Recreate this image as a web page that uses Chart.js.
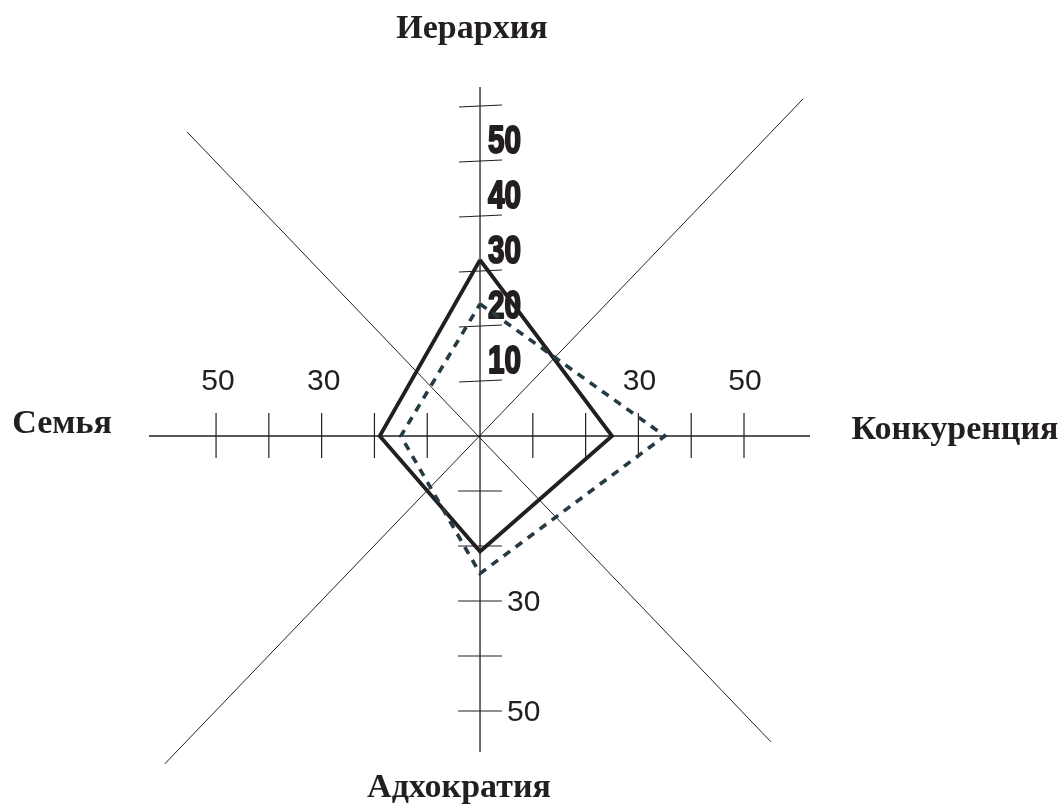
<!DOCTYPE html>
<html>
<head>
<meta charset="utf-8">
<script src="https://cdn.jsdelivr.net/npm/chart.js@4.4.1/dist/chart.umd.min.js"></script>
<style>
  html, body { margin: 0; padding: 0; background: #ffffff; }
  #wrap { width: 1064px; height: 805px; }
</style>
</head>
<body>
<div id="wrap"><canvas id="c" width="1064" height="805"></canvas></div>
<script>
// Axis names, in order: up, right, down, left
const categories = ['Иерархия', 'Конкуренция', 'Адхократия', 'Семья'];

// Profile values on each axis (same order as categories)
const solidValues  = [32, 25, 21, 19];
const dashedValues = [24, 35, 25, 15];

// Tick marks on each half-axis
const ticksUp    = [10, 20, 30, 40, 50, 60];
const ticksRight = [10, 20, 30, 40, 50];
const ticksDown  = [10, 20, 30, 40, 50];
const ticksLeft  = [10, 20, 30, 40, 50];

// Numbers printed beside the ticks
const labelsUp    = [10, 20, 30, 40, 50];
const labelsRight = [30, 50];
const labelsDown  = [30, 50];
const labelsLeft  = [30, 50];

// Diagonal guide lines (end points in axis units)
const diagonals = [
  [[-55.5, 55.3], [55.1, -55.6]],
  [[-59.7, -59.6], [61.2, 61.3]]
];

const INK = '#231f20';

// Map a value on each named axis to an (x, y) point
function toPoints(values) {
  const pts = [
    { x: 0, y: values[0] },
    { x: values[1], y: 0 },
    { x: 0, y: -values[2] },
    { x: -values[3], y: 0 }
  ];
  pts.push(pts[0]);
  return pts;
}

const frame = {
  id: 'frame',
  beforeDatasetsDraw(chart) {
    const ctx = chart.ctx;
    const xs = chart.scales.x, ys = chart.scales.y;
    const px = v => xs.getPixelForValue(v);
    const py = v => ys.getPixelForValue(v);
    const x0 = px(0), y0 = py(0);
    ctx.save();
    ctx.strokeStyle = INK;

    // diagonals
    ctx.lineWidth = 1;
    diagonals.forEach(d => {
      ctx.beginPath();
      ctx.moveTo(px(d[0][0]), py(d[0][1]));
      ctx.lineTo(px(d[1][0]), py(d[1][1]));
      ctx.stroke();
    });

    // main axes
    ctx.lineWidth = 1.3;
    ctx.beginPath();
    ctx.moveTo(px(xs.min), y0); ctx.lineTo(px(xs.max), y0);
    ctx.moveTo(x0, py(ys.max)); ctx.lineTo(x0, py(ys.min));
    ctx.stroke();

    // tick marks
    ctx.lineWidth = 1.2;
    ctx.beginPath();
    ticksUp.forEach(v => { const y = py(v); ctx.moveTo(x0 - 21, y + 1); ctx.lineTo(x0 + 22, y - 1); });
    ticksDown.forEach(v => { const y = py(-v); ctx.moveTo(x0 - 22, y); ctx.lineTo(x0 + 22, y); });
    ticksRight.forEach(v => { const x = px(v); ctx.moveTo(x, y0 - 23); ctx.lineTo(x, y0 + 22); });
    ticksLeft.forEach(v => { const x = px(-v); ctx.moveTo(x, y0 - 23); ctx.lineTo(x, y0 + 22); });
    ctx.stroke();

    // condensed heavy numbers on the upper axis
    ctx.fillStyle = INK;
    ctx.textAlign = 'left';
    ctx.textBaseline = 'middle';
    ctx.font = 'bold 38px "Liberation Sans", Arial, sans-serif';
    ctx.lineWidth = 2;
    ctx.lineJoin = 'round';
    labelsUp.forEach(v => {
      ctx.save();
      ctx.translate(x0 + 8, py(v) - 19);
      ctx.scale(0.78, 1.02);
      ctx.fillText(String(v), 0, 0);
      ctx.strokeText(String(v), 0, 0);
      ctx.restore();
    });

    // plain numbers on the other axes
    ctx.font = '30px "Liberation Sans", Arial, sans-serif';
    ctx.textAlign = 'center';
    labelsRight.forEach(v => ctx.fillText(String(v), px(v) + 1, y0 - 54));
    labelsLeft.forEach(v => ctx.fillText(String(v), px(-v) + 2, y0 - 54));
    ctx.textAlign = 'left';
    labelsDown.forEach(v => ctx.fillText(String(v), x0 + 27, py(-v) + 2));

    // axis names
    ctx.font = 'bold 34px "Liberation Serif", "Times New Roman", serif';
    ctx.textAlign = 'center';
    ctx.textBaseline = 'alphabetic';
    ctx.fillText(categories[0], 472, 38);
    ctx.fillText(categories[1], 955, 439);
    ctx.fillText(categories[2], 459, 797);
    ctx.fillText(categories[3], 62, 433);
    ctx.restore();
  }
};

new Chart(document.getElementById('c'), {
  type: 'scatter',
  data: {
    datasets: [
      {
        data: toPoints(dashedValues),
        showLine: true,
        borderColor: '#263a44',
        borderWidth: 3.6,
        borderDash: [8, 7],
        borderJoinStyle: 'miter',
        pointRadius: 0,
        fill: false,
        clip: false,
        tension: 0
      },
      {
        data: toPoints(solidValues),
        showLine: true,
        borderColor: INK,
        borderWidth: 3.8,
        borderJoinStyle: 'miter',
        pointRadius: 0,
        fill: false,
        clip: false,
        tension: 0
      }
    ]
  },
  options: {
    responsive: false,
    animation: false,
    layout: { padding: { left: 149, right: 254, top: 87, bottom: 53 } },
    scales: {
      x: { type: 'linear', min: -62.7, max: 62.5, display: false },
      y: { type: 'linear', min: -57.45, max: 63.45, display: false }
    },
    plugins: {
      legend: { display: false },
      tooltip: { enabled: false }
    }
  },
  plugins: [frame]
});
</script>
</body>
</html>
